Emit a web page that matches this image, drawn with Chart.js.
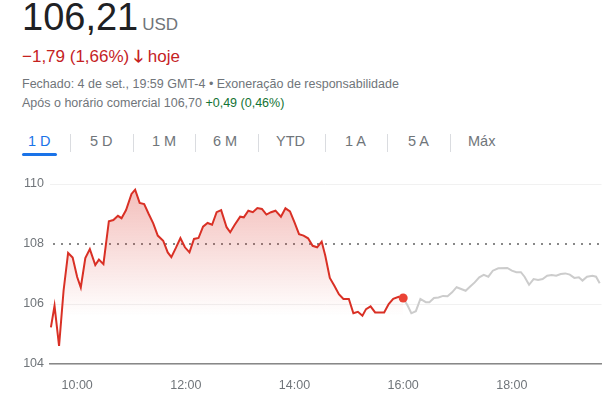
<!DOCTYPE html>
<html><head><meta charset="utf-8">
<script src="https://cdn.jsdelivr.net/npm/chart.js@4"></script>
<style>
body{margin:0;width:606px;height:402px;overflow:hidden;background:#fff;font-family:Arial,"Liberation Sans",sans-serif;position:relative}
.abs{position:absolute;white-space:nowrap}
#price{left:22px;top:-4px;font-size:38px;color:#202124}
#price span{font-size:17px;color:#70757a;margin-left:4px}
#chg{left:22px;top:44px;font-size:17px;color:#c5221f}
.sm{font-size:12.5px;color:#70757a;left:22px}
.tab{top:133px;font-size:14.5px;color:#70757a}
.sep{top:134px;width:1px;height:18px;background:#dadce0}
#wrap{position:absolute;left:0;top:170px;width:606px;height:232px}
</style></head><body>
<div class="abs" id="price">106,21<span>USD</span></div>
<div class="abs" id="chg">−1,79 (1,66%) <b style="font-weight:bold">🡓</b> hoje</div>
<div class="abs sm" style="top:77px">Fechado: 4 de set., 19:59 GMT-4 • Exoneração de responsabilidade</div>
<div class="abs sm" style="top:96px">Após o horário comercial 106,70 <span style="color:#137333">+0,49 (0,46%)</span></div>
<div id="tabs"></div>
<div id="wrap"><canvas id="c"></canvas></div>
<script>
const tabLabels = ["1 D","5 D","1 M","6 M","YTD","1 A","5 A","Máx"]
const tabX = [28,90,152,213,276,345,408,468]
const sepX = [70,133,195,258,325,387,450]

const regTimes = ["9:31","9:35","9:40","9:45","9:50","9:55","10:00","10:04","10:09","10:14","10:20","10:24","10:29","10:35","10:40","10:45","10:49","10:54","11:00","11:04","11:09","11:14","11:19","11:24","11:29","11:35","11:40","11:44","11:49","11:54","11:59","12:04","12:09","12:14","12:19","12:24","12:29","12:34","12:39","12:45","12:49","12:54","13:00","13:04","13:09","13:14","13:19","13:24","13:29","13:34","13:39","13:45","13:50","13:55","14:00","14:05","14:10","14:15","14:20","14:25","14:30","14:34","14:39","14:44","14:49","14:54","15:00","15:05","15:10","15:15","15:19","15:24","15:29","15:39","15:44","15:49","15:55","16:00"]
const regValues = [105.22,105.94,104.6,106.45,107.7,107.55,106.9,106.55,107.53,107.83,107.3,107.48,107.33,108.76,108.8,108.94,108.86,109.13,109.67,109.81,109.37,109.33,109.0,108.69,108.28,108.11,107.72,107.56,107.87,108.2,107.89,107.72,108.17,108.2,108.58,108.7,108.64,109.06,109.13,108.56,108.39,108.64,108.91,108.89,109.11,109.06,109.2,109.17,108.98,109.06,109.11,108.91,109.19,109.09,108.72,108.33,108.28,108.19,107.94,107.89,108.08,107.61,106.87,106.61,106.33,106.17,106.17,105.69,105.74,105.61,105.83,105.92,105.72,105.72,106.0,106.17,106.24,106.2]
const extTimes = ["16:00","16:05","16:09","16:14","16:19","16:25","16:29","16:34","16:39","16:44","16:49","16:54","16:59","17:04","17:09","17:14","17:19","17:24","17:29","17:34","17:39","17:45","17:55","18:00","18:05","18:10","18:14","18:19","18:24","18:29","18:34","18:39","18:44","18:49","18:54","18:59","19:04","19:09","19:14","19:18","19:23","19:29","19:33","19:37"]
const extValues = [106.2,105.94,105.69,105.76,106.17,106.06,106.06,106.2,106.22,106.27,106.26,106.39,106.56,106.5,106.44,106.58,106.72,106.89,106.97,106.91,107.11,107.19,107.2,107.11,107.06,107.06,106.91,106.64,106.83,106.8,106.83,106.94,106.97,106.94,107.0,107.02,106.98,106.87,106.89,106.78,106.91,106.94,106.91,106.69]
const yTicks = [104,106,108,110]
const xTickTimes = ["10:00","12:00","14:00","16:00","18:00"]

const toMin = t => { let [h,m] = t.split(":"); return h*60 + +m }
const fmt = v => `${Math.floor(v/60)}:${String(v%60).padStart(2,"0")}`

let tabs = document.querySelector("#tabs")
tabs.innerHTML = tabLabels.map((l,i) =>
    `<div class="abs tab" style="left:${tabX[i]}px;${i==0?'color:#1a73e8':''}">${l}</div>`).join('')
    + sepX.map(x => `<div class="abs sep" style="left:${x}px"></div>`).join('')
    + `<div class="abs" style="left:22px;top:153px;width:35px;height:3px;border-radius:2px;background:#1a73e8"></div>`

const ctx = document.getElementById("c")
new Chart(ctx, {
    type: 'line',
    data: {
        datasets: [{
            data: regTimes.map((t,i) => ({x: toMin(t), y: regValues[i]})),
            borderColor: '#d93025',
            borderWidth: 2,
            pointRadius: regTimes.map((t,i) => i == regTimes.length-1 ? 4.5 : 0),
            pointBackgroundColor: '#ea4335',
            pointBorderWidth: 0,
            fill: 'start',
            backgroundColor: (c) => {
                let a = c.chart.chartArea
                if (!a) return 'rgba(217,48,37,0.2)'
                let g = c.chart.ctx.createLinearGradient(0, a.top, 0, c.chart.scales.y.getPixelForValue(105.6))
                g.addColorStop(0, 'rgba(217,48,37,0.32)')
                g.addColorStop(1, 'rgba(217,48,37,0)')
                return g
            }
        }, {
            data: extTimes.map((t,i) => ({x: toMin(t), y: extValues[i]})),
            borderColor: '#cccccc',
            borderWidth: 2,
            pointRadius: 0,
            fill: false
        }]
    },
    options: {
        responsive: true, maintainAspectRatio: false, animation: false,
        layout: {padding: {top: 14, right: 0}},
        plugins: {legend: {display: false}, tooltip: {enabled: false}},
        scales: {
            x: {
                type: 'linear', min: 570, max: 1179,
                afterBuildTicks: s => { s.ticks = xTickTimes.map(t => ({value: toMin(t)})) },
                afterFit: s => { s.height = 38 },
                ticks: {callback: v => fmt(v), color: '#70757a', font: {size: 12.5, family: 'Arial'}, maxRotation: 0, padding: 6},
                grid: {display: false},
                border: {color: '#888', width: 1.5}
            },
            y: {
                min: 104, max: 110,
                afterBuildTicks: s => { s.ticks = yTicks.map(v => ({value: v})) },
                afterFit: s => { s.width = 50 },
                ticks: {color: '#70757a', font: {size: 12.5, family: 'Arial'}, padding: 6},
                grid: {
                    color: c => c.tick.value == 108 ? '#888' : '#f1f1f1',
                    lineWidth: c => c.tick.value == 108 ? 1.2 : 1,
                    drawTicks: false
                },
                border: {display: false, dash: c => c.tick && c.tick.value == 108 ? [1.5, 6] : []}
            }
        }
    },
    plugins: [{
        id: 'dots',
        beforeDatasetsDraw: (ch) => {
            // redraw the 108 previous-close line dotted
            let y = ch.scales.y.getPixelForValue(108), a = ch.chartArea, c = ch.ctx
            c.save(); c.fillStyle = '#fff'; c.fillRect(a.left, y-1.5, a.right-a.left, 3)
            c.fillStyle = '#888'
            for (let x = a.left + 3; x < a.right; x += 8) c.fillRect(x, y-1, 2, 2)
            c.restore()
        }
    }]
})
</script>
</body></html>
